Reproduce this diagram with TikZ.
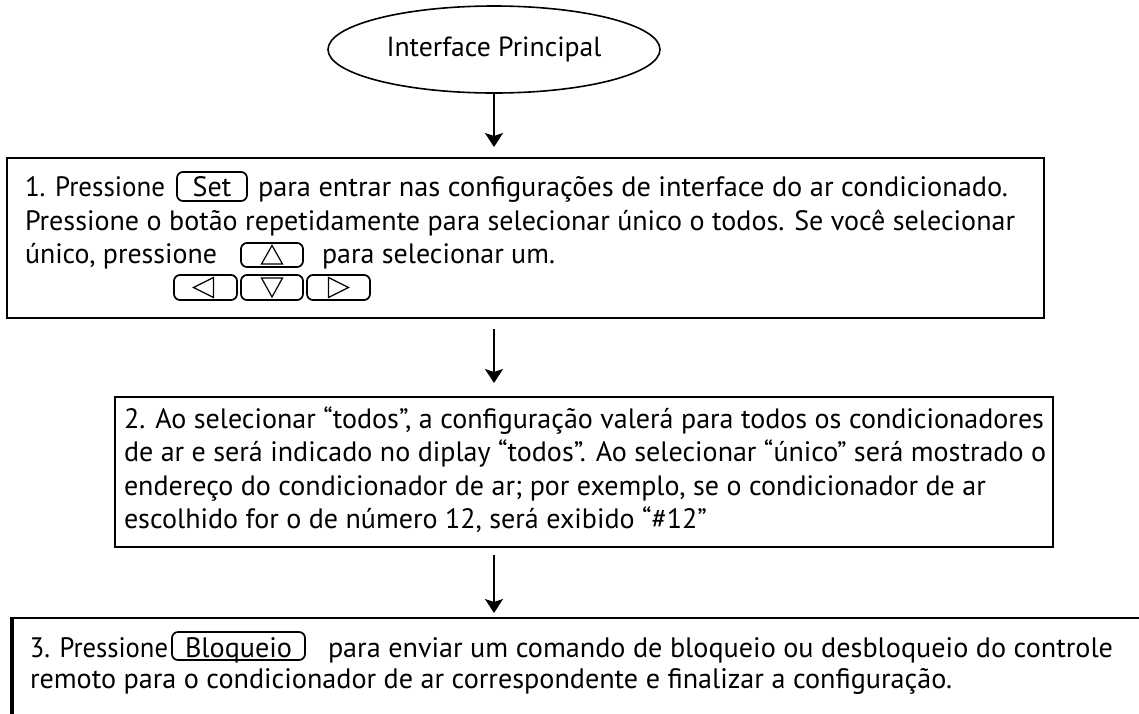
\documentclass[tikz,border=0pt]{standalone}
\usepackage{graphicx}
\usepackage{fontspec}
\setmainfont{PT Sans}
\usetikzlibrary{arrows.meta,shapes.geometric,calc}
\newlength\mylenA
\newcommand\calibfs[3]{\settowidth\mylenA{\normalfont\fontsize{20}{24}\selectfont #3}\pgfmathsetmacro#1{#2/\mylenA*20}}
\newcommand\fitw[2]{\resizebox{#1pt}{\height}{#2}}
\newcommand\fA{\fontsize{\fsA}{\fsA}\selectfont}
\newcommand\fB{\fontsize{\fsB}{\fsB}\selectfont}
\newcommand\fC{\fontsize{\fsC}{\fsC}\selectfont}
\newcommand\fE{\fontsize{\fsE}{\fsE}\selectfont}
\begin{document}
\calibfs\fsA{990}{Pressione o botão repetidamente para selecionar único o todos. Se você selecionar}%
\calibfs\fsB{920}{2. Ao selecionar “todos”, a configuração valerá para todos os condicionadores}%
\calibfs\fsC{922}{remoto para o condicionador de ar correspondente e finalizar a configuração.}%
\calibfs\fsE{215}{Interface Principal}%
\begin{tikzpicture}[x=1pt,y=-1pt,
  boxframe/.style={draw, line width=2.2pt, rectangle, inner sep=0pt, anchor=north west},
  txt/.style={anchor=base west, inner sep=0pt, outer sep=0pt},
  btn/.style={draw, line width=1.7pt, rounded corners=6pt, inner sep=0pt},
  arr/.style={line width=2.2pt, -{Stealth[length=14pt,width=18pt,inset=3pt]}},
  tri/.style={line width=1.2pt, line join=miter}]
\useasboundingbox (0,0) rectangle (1139,713);
\fill[white] (0,0) rectangle (1139,713);
\clip (0,0) rectangle (1139,713);

% start ellipse
\node[ellipse, draw, line width=1.6pt, minimum width=332, minimum height=87, inner sep=0pt, font=\fE] (ell) at (494,49.5) {Interface Principal};

% box 1
\node[boxframe, minimum width=1037, minimum height=160] (b1) at (6,157) {};
\node[txt, font=\fA] (t11a) at (25,196) {\fitw{140}{1. Pressione}};
\node[btn, anchor=base, font=\fA, minimum width=70, text height=24pt, text depth=5pt] (bset) at (212,196) {Set};
\node[txt, font=\fA] (t11b) at (258,196) {\fitw{750}{para entrar nas configurações de interface do ar condicionado.}};
\node[txt, font=\fA] (t12) at (25,230) {Pressione o botão repetidamente para selecionar único o todos. Se você selecionar};
\node[txt, font=\fA] (t13a) at (25,263) {\fitw{192}{único, pressione}};
\node[btn, minimum width=62, minimum height=24] (bup) at (272,255) {};
\node[txt, font=\fA] (t13b) at (322,263) {\fitw{233}{para selecionar um.}};
\node[btn, minimum width=63, minimum height=25] (bleft) at (205.5,287.5) {};
\node[btn, minimum width=62, minimum height=25] (bdown) at (272,287.5) {};
\node[btn, minimum width=63, minimum height=25] (bright) at (338.5,287.5) {};
\draw[tri] ($(bup)+(-10.5,9)$) -- ($(bup)+(10.5,9)$) -- ($(bup)+(0,-9.5)$) -- cycle;
\draw[tri] ($(bdown)+(-10.5,-9.5)$) -- ($(bdown)+(10.5,-9.5)$) -- ($(bdown)+(0,9.5)$) -- cycle;
\draw[tri] ($(bleft)+(8,-10)$) -- ($(bleft)+(8,10)$) -- ($(bleft)+(-12,0)$) -- cycle;
\draw[tri] ($(bright)+(-10,-10)$) -- ($(bright)+(-10,10)$) -- ($(bright)+(10,0)$) -- cycle;

% box 2
\node[boxframe, minimum width=938, minimum height=150] (b2) at (114,396) {};
\node[txt, font=\fB] (t21) at (124,428) {2. Ao selecionar “todos”, a configuração valerá para todos os condicionadores};
\node[txt, font=\fB] (t22) at (124,461.5) {de ar e será indicado no diplay “todos”. Ao selecionar “único” será mostrado o};
\node[txt, font=\fB] (t23) at (124,495) {endereço do condicionador de ar; por exemplo, se o condicionador de ar};
\node[txt, font=\fB] (t24) at (124,528.5) {escolhido for o de número 12, será exibido “\#12”};

% box 3
\node[boxframe, minimum width=1160, minimum height=140] (b3) at (12,617) {};
\draw[line width=3.4pt] (b3.north west) -- (b3.south west);
\node[txt, font=\fC] (t31a) at (30,657) {\fitw{138}{3. Pressione}};
\node[btn, anchor=base, font=\fC, minimum width=133, text height=25pt, text depth=3pt] (bbloq) at (238.5,657) {Bloqueio};
\node[txt, font=\fC] (t31b) at (328,657) {\fitw{785}{para enviar um comando de bloqueio ou desbloqueio do controle}};
\node[txt, font=\fC] (t32) at (30,688) {remoto para o condicionador de ar correspondente e finalizar a configuração.};

% arrows
\draw[arr, shorten >=10pt] (ell.south) -- (ell.south |- b1.north);
\draw[arr, shorten <=10pt, shorten >=13pt] (ell.south |- b1.south) -- (ell.south |- b2.north);
\draw[arr, shorten <=7pt, shorten >=4pt] (ell.south |- b2.south) -- (ell.south |- b3.north);
\end{tikzpicture}
\end{document}
